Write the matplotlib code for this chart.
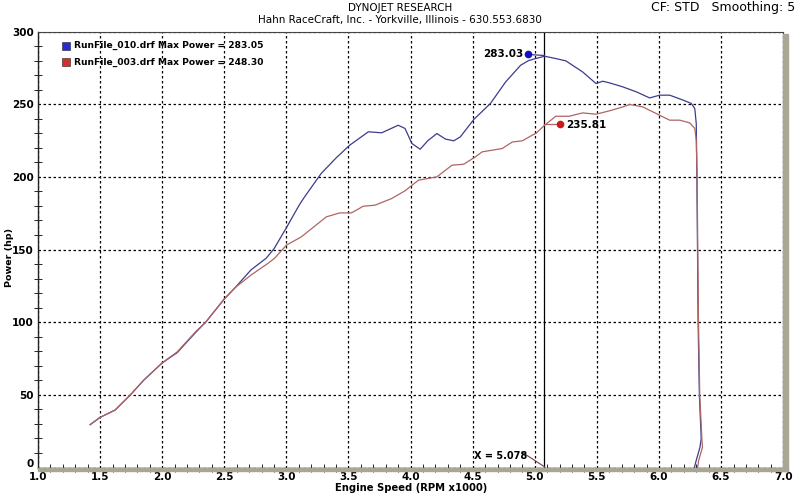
import matplotlib
matplotlib.use("Agg")
import matplotlib.pyplot as plt
from matplotlib.patches import Rectangle
from matplotlib.ticker import MultipleLocator
from matplotlib.transforms import ScaledTranslation

# run 010 (blue)
blue_rpm = [1.42, 1.50, 1.62, 1.744, 1.85, 2.0, 2.12, 2.27, 2.35, 2.5, 2.59, 2.715, 2.837,
            2.90, 3.0, 3.106, 3.147, 3.28, 3.40, 3.51, 3.66, 3.767, 3.90, 3.955, 4.01,
            4.077, 4.14, 4.212, 4.28, 4.347, 4.40, 4.509, 4.643, 4.765, 4.886, 4.95,
            5.007, 5.078, 5.169, 5.25, 5.385, 5.493, 5.547, 5.60, 5.709, 5.817, 5.925,
            6.005, 6.086, 6.194, 6.26, 6.288, 6.30, 6.305, 6.31, 6.315, 6.325, 6.34,
            6.33, 6.30, 6.285]
blue_hp = [29.5, 34.5, 39.5, 50.0, 60.0, 72.0, 79.0, 93.0, 100.0, 116.0, 124.0, 136.0, 144.0,
           150.5, 165.0, 181.0, 186.3, 202.3, 213.0, 221.8, 231.0, 230.3, 235.5, 233.3, 223.0,
           219.0, 225.0, 229.8, 226.0, 224.8, 227.5, 239.5, 250.5, 265.3, 276.8, 280.0,
           281.4, 283.0, 281.4, 279.8, 272.2, 264.2, 265.8, 264.7, 261.9, 258.5, 254.3,
           256.2, 256.2, 252.8, 250.5, 247.0, 236.7, 200.0, 150.0, 100.0, 50.0, 20.0,
           14.0, 5.0, 0.0]

# run 003 (red)
red_rpm = [1.42, 1.50, 1.62, 1.744, 1.85, 2.0, 2.12, 2.27, 2.35, 2.5, 2.59, 2.715, 2.85,
           2.904, 3.0, 3.12, 3.322, 3.43, 3.524, 3.619, 3.713, 3.848, 3.955, 4.063, 4.212,
           4.333, 4.428, 4.522, 4.576, 4.738, 4.819, 4.90, 4.98, 5.007, 5.083, 5.169,
           5.277, 5.385, 5.493, 5.60, 5.709, 5.763, 5.87, 6.005, 6.086, 6.167, 6.248,
           6.288, 6.30, 6.307, 6.312, 6.318, 6.328, 6.345, 6.35, 6.32, 6.31]
red_hp = [29.5, 34.5, 39.5, 50.0, 60.0, 72.0, 79.5, 93.5, 100.0, 116.0, 124.0, 132.4, 140.4,
          143.9, 153.0, 158.7, 172.5, 175.2, 175.2, 179.8, 180.5, 185.1, 190.4, 197.7, 200.0,
          208.0, 208.7, 213.8, 217.2, 219.5, 224.0, 224.8, 228.7, 229.8, 235.8, 241.7,
          241.7, 244.0, 243.1, 245.4, 248.1, 249.8, 248.1, 242.4, 239.0, 239.0, 237.1,
          233.3, 225.2, 200.0, 150.0, 100.0, 50.0, 20.0, 14.0, 5.0, 0.0]

legend_labels = ["RunFile_010.drf Max Power = 283.05", "RunFile_003.drf Max Power = 248.30"]
cursor_x = 5.078
blue_cursor = 283.03
red_cursor = 235.81

blue = "#3c3c8c"
red = "#b06464"

fig = plt.figure(figsize=(8, 4.94), dpi=100)
ax = fig.add_axes([0.0475, 0.0536, 0.9315, 0.8826])

ax.plot(blue_rpm, blue_hp, color=blue, lw=0.9, zorder=3)
ax.plot(red_rpm, red_hp, color=red, lw=0.9, zorder=3)

ax.set_xlim(1.0, 7.0)
ax.set_ylim(0, 300)
ax.xaxis.set_major_locator(MultipleLocator(0.5))
ax.xaxis.set_minor_locator(MultipleLocator(0.1))
ax.yaxis.set_major_locator(MultipleLocator(50))
ax.yaxis.set_minor_locator(MultipleLocator(10))
ax.xaxis.set_major_formatter(plt.FuncFormatter(lambda v, p: f"{v:.1f}"))
ax.grid(True, which="major", color="black", linestyle=(0, (2, 2)), lw=0.9)
ax.tick_params(which="both", direction="inout", labelsize=7.5, length=6)
ax.tick_params(axis="x", which="major", length=0, pad=3)
ax.tick_params(axis="y", which="major", length=0, pad=3)
for lab in ax.get_xticklabels() + ax.get_yticklabels():
    lab.set_fontweight("bold")
for s in ["top", "right"]:
    ax.spines[s].set_color("#444444")
    ax.spines[s].set_linewidth(0.8)
for s in ["left", "bottom"]:
    ax.spines[s].set_color("#222222")
    ax.spines[s].set_linewidth(1.0)

fig.text(0.514, 0.0115, "Engine Speed (RPM x1000)", ha="center", va="center",
         fontsize=7.2, fontweight="bold")
fig.text(0.012, 0.478, "Power (hp)", ha="center", va="center", rotation=90,
         fontsize=6.8, fontweight="bold")

# 3D shadow strips along bottom and right
fig.patches.append(Rectangle((0.0475, 0.046), 0.937, 0.0076, transform=fig.transFigure,
                             color="#a9a794", zorder=0))
fig.patches.append(Rectangle((0.979, 0.046), 0.0055, 0.885, transform=fig.transFigure,
                             color="#a9a794", zorder=0))

# cursor
ax.axvline(cursor_x, color="black", lw=0.9, zorder=2)
ax.plot([4.948, cursor_x], [284.2, 283.5], color=blue, lw=0.9, zorder=4)
ax.plot([4.948], [284.2], "o", color="#1010c0", ms=4.5, zorder=5)
ax.text(4.91, 284.2, f"{blue_cursor:.2f}", ha="right", va="center", fontsize=7.5,
        fontweight="bold")
ax.plot([cursor_x, 5.2], [236.5, 236.5], color=red, lw=0.9, zorder=4)
ax.plot([5.2], [236.5], "o", color="#d01818", ms=4.5, zorder=5)
ax.text(5.25, 236.0, f"{red_cursor:.2f}", ha="left", va="center", fontsize=7.5,
        fontweight="bold")
ax.plot([4.90, cursor_x], [10.4, 0.5], color="#704040", lw=0.8)
ax.text(4.51, 7.9, f"X = {cursor_x:.3f}", ha="left", va="center", fontsize=7,
        fontweight="bold")

# legend
for i, (lab, c) in enumerate(zip(legend_labels, ["#2a2ad0", "#d03030"])):
    yy = 0.967 - i * 0.037
    ax.plot([0.038], [yy], "s", color=c, ms=6, mec="#202020", mew=0.4,
            transform=ax.transAxes, zorder=6)
    ax.text(0.048, yy, lab, ha="left", va="center", fontsize=6.6, fontweight="bold",
            transform=ax.transAxes, zorder=6)

fig.text(0.5, 0.984, "DYNOJET RESEARCH", ha="center", va="center", fontsize=7.5)
fig.text(0.5, 0.959, "Hahn RaceCraft, Inc. - Yorkville, Illinois - 630.553.6830",
         ha="center", va="center", fontsize=7.5)
fig.text(0.994, 0.984, "CF: STD   Smoothing: 5", ha="right", va="center", fontsize=9)

# lift the "0" label a little so it clears the "1.0" below it
fig.canvas.draw()
for t in ax.yaxis.get_major_ticks():
    if abs(t.get_loc()) < 1e-9:
        t.label1.set_transform(t.label1.get_transform()
                               + ScaledTranslation(0, 3 / 72, fig.dpi_scale_trans))

fig.savefig("out.png", dpi=100)
